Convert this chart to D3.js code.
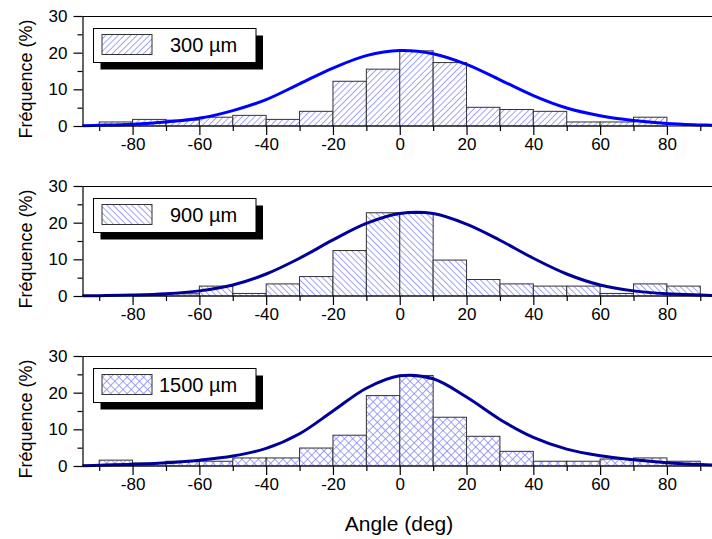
<!DOCTYPE html>
<html><head><meta charset="utf-8">
<script src="https://cdnjs.cloudflare.com/ajax/libs/d3/7.8.5/d3.min.js"></script>
<style>body{margin:0;background:#fff}svg{display:block;font-family:"Liberation Sans",Arial,sans-serif}</style>
</head><body>
<script>
// ---- data ----
const binStarts = [-90,-80,-70,-60,-50,-40,-30,-20,-10,0,10,20,30,40,50,60,70,80];
const binWidth = 10;
const freq300  = [1.1,1.8,1.6,2.4,2.9,1.8,4.0,12.2,15.5,20.5,17.3,5.1,4.5,4.0,1.1,1.1,2.4,0];
const freq900  = [0,0.3,0.6,2.7,0.7,3.3,5.3,12.4,22.7,22.5,9.8,4.5,3.3,2.7,2.7,0.7,3.3,2.7];
const freq1500 = [1.6,0.8,1.3,1.3,2.2,2.2,4.9,8.4,19.2,24.7,13.3,8.1,4.0,1.3,1.3,1.9,2.2,1.3];
const fitX     = [-95,-90,-80,-70,-60,-50,-40,-30,-20,-10,0,10,20,30,40,50,60,70,80,90,95];
const fit300   = [0.08,0.2,0.5,1.1,2.1,4.2,7.2,11.5,15.8,19.2,20.6,19.7,16.8,12.6,8.3,4.9,2.8,1.5,0.7,0.3,0.15];
const fit900   = [0.05,0.1,0.25,0.6,1.4,3.0,6.0,10.3,15.3,19.8,22.5,22.5,19.6,15.2,10.3,6.0,3.0,1.4,0.6,0.25,0.12];
const fit1500  = [0.1,0.2,0.45,0.9,1.6,2.7,4.8,8.8,15.0,21.2,24.6,23.8,18.8,12.7,7.8,4.6,2.8,1.7,0.9,0.4,0.25];
const legendLabels = ["300 \u00b5m","900 \u00b5m","1500 \u00b5m"];
const xTicks = [-80,-60,-40,-20,0,20,40,60,80];
const yTicks = [0,10,20,30];
const yLabel = "Fréquence (%)";
const xLabel = "Angle (deg)";

const W = 712, H = 539;
const svg = d3.select("body").append("svg").attr("width", W).attr("height", H);
const defs = svg.append("defs");
const hatchColor = "#8a8af5";

function hatch(id, angle, cross, s) {
  const p = defs.append("pattern").attr("id", id).attr("patternUnits", "userSpaceOnUse")
    .attr("width", s).attr("height", s).attr("patternTransform", `rotate(${angle})`);
  p.append("rect").attr("width", s).attr("height", s).attr("fill", "#fff");
  p.append("line").attr("x1", 0.5).attr("y1", 0).attr("x2", 0.5).attr("y2", s)
    .attr("stroke", hatchColor).attr("stroke-width", 0.8);
  if (cross) p.append("line").attr("x1", 0).attr("y1", 0.5).attr("x2", s).attr("y2", 0.5)
    .attr("stroke", hatchColor).attr("stroke-width", 0.8);
}
hatch("h300", 45, false, 4.4); hatch("h900", -45, false, 4.4); hatch("h1500", 45, true, 5.8);

const x = d3.scaleLinear().domain([-95, 95]).range([82.5, 717]);
const panels = [
  {top: 16, freq: freq300, fit: fit300, color: "#0000ff", pat: "h300", label: legendLabels[0], tx: 170},
  {top: 186, freq: freq900, fit: fit900, color: "#000099", pat: "h900", label: legendLabels[1], tx: 170},
  {top: 356, freq: freq1500, fit: fit1500, color: "#000099", pat: "h1500", label: legendLabels[2], tx: 159}
];
const ph = 110;

panels.forEach(P => {
  const g = svg.append("g").attr("transform", `translate(0,${P.top})`);
  const y = d3.scaleLinear().domain([0, 30]).range([ph, 0]);

  g.selectAll("rect.bar").data(binStarts.map((b,i)=>({b, v:P.freq[i]})).filter(d=>d.v>0))
    .join("rect").attr("class","bar")
    .attr("x", d => x(d.b)).attr("width", d => x(d.b + binWidth) - x(d.b))
    .attr("y", d => y(d.v)).attr("height", d => y(0) - y(d.v))
    .attr("fill", `url(#${P.pat})`).attr("stroke", "#333").attr("stroke-width", 1);

  const line = d3.line().x(d => x(d[0])).y(d => y(d[1])).curve(d3.curveCatmullRom.alpha(0.5));
  g.append("path").datum(fitX.map((v,i)=>[v, P.fit[i]]))
    .attr("d", line).attr("fill", "none").attr("stroke", P.color).attr("stroke-width", 3);

  g.append("line").attr("x1", x.range()[0]).attr("x2", W).attr("y1", 0.5).attr("y2", 0.5).attr("stroke", "#000").attr("stroke-width", 1.2);

  const xa = d3.axisBottom(x).tickValues(xTicks).tickSize(9).tickSizeOuter(0).tickFormat(d => d);
  const xg = g.append("g").attr("transform", `translate(0,${ph})`).call(xa);
  xg.select(".domain").attr("stroke-width", 1.2).attr("d", `M${x.range()[0]},0H${W}`);
  xg.selectAll(".tick line").attr("stroke-width", 1.2);
  xg.selectAll(".tick text").attr("font-size", 17).attr("fill", "#000").attr("y", 12).attr("dy", "0.71em")
    .text(d => d < 0 ? "-" + Math.abs(d) : d);
  const xm = d3.axisBottom(x).tickValues(d3.range(-90, 91, 20)).tickSize(5).tickFormat("");
  const xmg = g.append("g").attr("transform", `translate(0,${ph})`).call(xm);
  xmg.select(".domain").remove();
  xmg.selectAll(".tick line").attr("stroke-width", 1.2);

  const ya = d3.axisLeft(y).tickValues(yTicks).tickSize(9).tickSizeOuter(0);
  const yg = g.append("g").attr("transform", `translate(${x.range()[0]},0)`).call(ya);
  yg.select(".domain").attr("stroke-width", 1.2);
  yg.selectAll(".tick line").attr("stroke-width", 1.2);
  yg.selectAll(".tick text").attr("font-size", 17).attr("fill", "#000").attr("x", -15);
  const ym = d3.axisLeft(y).tickValues([5,15,25]).tickSize(5).tickFormat("");
  const ymg = g.append("g").attr("transform", `translate(${x.range()[0]},0)`).call(ym);
  ymg.select(".domain").remove();
  ymg.selectAll(".tick line").attr("stroke-width", 1.2);

  g.append("text").attr("transform", `translate(32,${ph/2 + 8}) rotate(-90)`)
    .attr("text-anchor", "middle").attr("font-size", 18).text(yLabel);

  const lx = 93.5, ly = 12.5, lw = 162.5, lh = 34;
  g.append("rect").attr("x", lx + 7).attr("y", ly + 7).attr("width", lw).attr("height", lh).attr("fill", "#000");
  g.append("rect").attr("x", lx).attr("y", ly).attr("width", lw).attr("height", lh).attr("fill", "#fff").attr("stroke", "#000").attr("stroke-width", 1);
  g.append("rect").attr("x", 102).attr("y", ly + 6).attr("width", 50).attr("height", 20)
    .attr("fill", `url(#${P.pat})`).attr("stroke", "#333").attr("stroke-width", 1);
  g.append("text").attr("x", P.tx).attr("y", ly + 23.5).attr("font-size", 20).text(P.label);
});

svg.append("text").attr("x", 399).attr("y", 531).attr("text-anchor", "middle").attr("font-size", 21).text(xLabel);
</script>
</body></html>
